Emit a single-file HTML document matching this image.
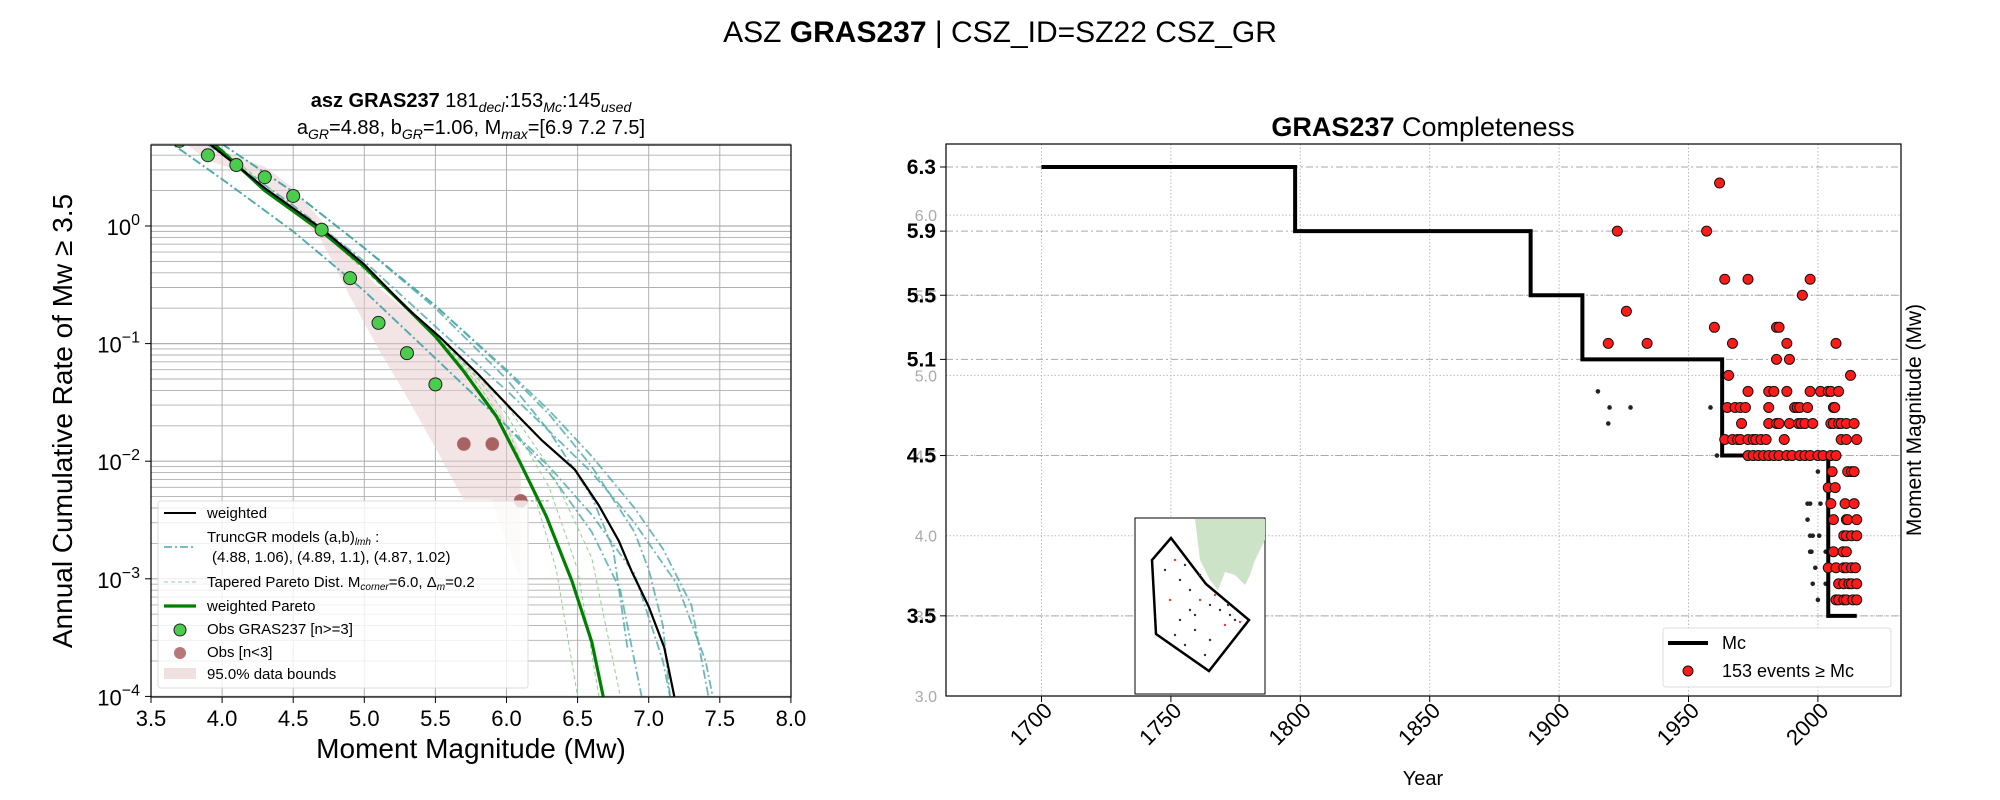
<!DOCTYPE html>
<html><head><meta charset="utf-8"><style>
html,body{margin:0;padding:0;background:#fff;}
svg{display:block;font-family:"Liberation Sans","DejaVu Sans",sans-serif;}
</style></head><body>
<svg id="fig" width="2000" height="800" viewBox="0 0 2000 800" xmlns="http://www.w3.org/2000/svg">
<defs>
<clipPath id="clipL"><rect x="151" y="145" width="640" height="552"/></clipPath>
<clipPath id="clipR"><rect x="946" y="144" width="955" height="552"/></clipPath>
</defs>
<text x="1000" y="42" font-size="30" text-anchor="middle">ASZ <tspan font-weight="bold">GRAS237</tspan> | CSZ_ID=SZ22 CSZ_GR</text>
<g id="left"></g>
<g id="right"></g>
</svg>
<script>
// ---------- LEFT CHART DATA ----------
const xTicksL = [3.5,4.0,4.5,5.0,5.5,6.0,6.5,7.0,7.5,8.0];
const yDecades = [0,-1,-2,-3,-4];
const obsMag = [3.7,3.9,4.1,4.3,4.5,4.7,4.9,5.1,5.3,5.5];
const obsRate = [5.3,4.0,3.3,2.6,1.8,0.93,0.36,0.15,0.083,0.045];
const obsLowMag = [5.7,5.9,6.1];
const obsLowRate = [0.014,0.014,0.0046];
const weightedCurve = [[3.6,9],[3.92,4.9],[4.3,2.1],[4.7,0.95],[5.0,0.47],[5.3,0.2],[5.53,0.114],[5.8,0.055],[6.03,0.028],[6.25,0.015],[6.48,0.0085],[6.65,0.0042],[6.79,0.0021],[6.88,0.00116],[7.0,0.00058],[7.11,0.00026],[7.18,0.0001]];
const paretoCurve = [[3.6,9],[3.95,4.9],[4.3,2.0],[4.7,0.9],[5.0,0.45],[5.3,0.2],[5.5,0.115],[5.7,0.058],[5.93,0.024],[6.1,0.0095],[6.28,0.0034],[6.46,0.00096],[6.6,0.00029],[6.68,0.0001]];
const truncCurves = [
 [[3.9,6],[4.5,1.95],[5.0,0.65],[5.5,0.21],[6.0,0.06],[6.3,0.027],[6.6,0.011],[6.9,0.004],[7.1,0.0018],[7.3,0.0006],[7.42,0.0001]],
 [[3.9,6],[4.5,1.95],[5.0,0.65],[5.5,0.21],[6.0,0.058],[6.3,0.025],[6.6,0.009],[6.9,0.0025],[7.0,0.0012],[7.1,0.0004],[7.15,0.0001]],
 [[3.9,6],[4.5,1.95],[5.0,0.65],[5.5,0.2],[6.0,0.05],[6.3,0.018],[6.6,0.005],[6.75,0.0018],[6.85,0.00026]],
 [[3.8,6],[4.5,1.5],[5.0,0.5],[5.5,0.14],[6.0,0.04],[6.3,0.018],[6.6,0.008],[6.9,0.003],[7.2,0.0009],[7.4,0.0002],[7.45,0.0001]],
 [[3.6,5.5],[4.0,2.5],[4.5,0.9],[5.0,0.28],[5.5,0.075],[6.0,0.02],[6.3,0.008],[6.6,0.0025],[6.8,0.0008],[6.95,0.0001]],
 [[3.6,5.5],[4.0,2.5],[4.5,0.9],[5.0,0.28],[5.5,0.075],[6.0,0.02],[6.3,0.009],[6.6,0.0035],[6.9,0.0011],[7.1,0.0002],[7.15,0.0001]]
];
const taperCurves = [
 [[4.0,4.5],[4.7,0.9],[5.5,0.12],[5.8,0.045],[6.0,0.02],[6.2,0.005],[6.35,0.0012],[6.5,0.0001]],
 [[4.0,4.5],[4.7,0.9],[5.5,0.12],[5.8,0.05],[6.0,0.025],[6.3,0.006],[6.5,0.0012],[6.65,0.0001]],
 [[4.0,4.5],[4.7,0.9],[5.5,0.12],[6.0,0.03],[6.3,0.009],[6.6,0.0015],[6.8,0.0001]]
];
const bandUpper = [[3.6,6],[3.9,4.8],[4.3,3.2],[4.5,2.1],[4.7,1.1],[4.9,0.55],[5.1,0.3],[5.5,0.12],[5.7,0.07],[5.9,0.04],[6.1,0.012]];
const bandLower = [[6.1,0.001],[6.0,0.002],[5.9,0.0047],[5.7,0.0047],[5.5,0.013],[5.3,0.035],[5.1,0.09],[4.9,0.25],[4.7,0.75],[4.5,1.4],[4.3,2.3],[4.1,3.0],[3.9,3.6],[3.7,5.5]];

// ---------- RIGHT CHART DATA ----------
const yearTicks = [1700,1750,1800,1850,1900,1950,2000];
const magTicks = [3.0,3.5,4.0,4.5,5.0,5.5,6.0];
const mcYears = [1700,1798,1889,1909,1963,2004,2015];
const mcMags = [6.3,5.9,5.5,5.1,4.5,3.5];
const evYears = [1962,1922.5,1957,1964,1973,1997,1994,1926,1960,1984,1985,1919,1934,1967,1988,2007,1984,1989,1965.5,2012.6,
1973,1981,1983,1988,1997,2001,2004,2005,2008,
1965,1968,1970,1972,1981,1991,1992,1993,1996,2006,2006.5,
1970.5,1981,1984,1985,1989,1992.5,1993.5,1995,1998,2005,2006,2008,2009,2011,2014,
1964,1967,1969,1970,1973,1975,1976,1978,1980,1987,2009,2011,2015,
1973,1975,1977,1979,1981,1983,1985,1988,1990,1993,1995,1997,2000,2002,2005,2007,
2005.5,2011.5,2013,2014,2004,2006.7,2005,2010.5,2014,2006,2011,2011.5,2015,
2010,2011,2013,2015,2006,2009.7,2011,2004,2007,2010,2011,2013,2014.5,
2008,2010,2012,2013,2015,2007,2008,2010,2011,2013.5,2015];
const evMags = [6.2,5.9,5.9,5.6,5.6,5.6,5.5,5.4,5.3,5.3,5.3,5.2,5.2,5.2,5.2,5.2,5.1,5.1,5.0,5.0,
4.9,4.9,4.9,4.9,4.9,4.9,4.9,4.9,4.9,
4.8,4.8,4.8,4.8,4.8,4.8,4.8,4.8,4.8,4.8,4.8,
4.7,4.7,4.7,4.7,4.7,4.7,4.7,4.7,4.7,4.7,4.7,4.7,4.7,4.7,4.7,
4.6,4.6,4.6,4.6,4.6,4.6,4.6,4.6,4.6,4.6,4.6,4.6,4.6,
4.5,4.5,4.5,4.5,4.5,4.5,4.5,4.5,4.5,4.5,4.5,4.5,4.5,4.5,4.5,4.5,
4.4,4.4,4.4,4.4,4.3,4.3,4.2,4.2,4.2,4.1,4.1,4.1,4.1,
4.0,4.0,4.0,4.0,3.9,3.9,3.9,3.8,3.8,3.8,3.8,3.8,3.8,
3.7,3.7,3.7,3.7,3.7,3.6,3.6,3.6,3.6,3.6,3.6];
const smallYears = [1915,1919.5,1927.6,1958.5,1919,1961,2000,1996,1997,2001,1996,1997,1998,2000.5,1997,1997.5,2003,1999,1998,2003,2000];
const smallMags = [4.9,4.8,4.8,4.8,4.7,4.5,4.4,4.2,4.2,4.2,4.1,4.0,4.0,4.0,3.9,3.9,3.9,3.8,3.7,3.7,3.6];

const NS='http://www.w3.org/2000/svg';
function mk(parent,tag,attrs,text){const e=document.createElementNS(NS,tag);for(const k in attrs)e.setAttribute(k,attrs[k]);if(text!==undefined)e.textContent=text;parent.appendChild(e);return e;}

// ---------- LEFT ----------
const L=document.getElementById('left');
const xL=m=>151+(m-3.5)*142.2;
const yL=v=>226-Math.log10(v)*117.6;
const pts=(arr,fx,fy)=>arr.map(p=>fx(p[0]).toFixed(1)+','+fy(p[1]).toFixed(1)).join(' ');
for(let d=-4;d<=0;d++){for(let k=1;k<=9;k++){const v=k*Math.pow(10,d);const y=yL(v);if(y<145)continue;
 const g=mk(L,'line',{x1:151,x2:791,y1:y,y2:y,stroke:'#b0b0b0','stroke-width':k==1?1.2:0.9});
 }}
mk(L,'line',{x1:151,x2:791,y1:yL(5),y2:yL(5),stroke:'#b0b0b0','stroke-width':0.9});
xTicksL.forEach(m=>{const g=mk(L,'line',{x1:xL(m),x2:xL(m),y1:145,y2:697,stroke:'#b0b0b0','stroke-width':1});
 });
const cl=mk(L,'g',{'clip-path':'url(#clipL)'});

const band=mk(cl,'polygon',{points:pts(bandUpper.concat(bandLower),xL,yL),fill:'#e8cccc','fill-opacity':0.5});

taperCurves.forEach(c=>{const e=mk(cl,'polyline',{points:pts(c,xL,yL),fill:'none',stroke:'#90d090','stroke-width':1,'stroke-dasharray':'4,3'});
 });
truncCurves.forEach(c=>{const e=mk(cl,'polyline',{points:pts(c,xL,yL),fill:'none',stroke:'#4aa8a8','stroke-width':1.8,'stroke-dasharray':'9,3,2,3','stroke-opacity':0.8});
 });
let e=mk(cl,'polyline',{points:pts(paretoCurve,xL,yL),fill:'none',stroke:'#008000','stroke-width':3.2});

e=mk(cl,'polyline',{points:pts(weightedCurve,xL,yL),fill:'none',stroke:'#000','stroke-width':2.2});

mk(cl,'line',{x1:xL(6.1),x2:xL(6.3),y1:yL(0.0046),y2:yL(0.0046),stroke:'#888','stroke-dasharray':'3,2'});
obsMag.forEach((m,i)=>{const c=mk(cl,'circle',{cx:xL(m),cy:yL(obsRate[i]),r:6.5,fill:'#4ccc4c',stroke:'#222','stroke-width':1});
 });
obsLowMag.forEach((m,i)=>{const c=mk(cl,'circle',{cx:xL(m),cy:yL(obsLowRate[i]),r:6.5,fill:'#a86262',stroke:'#a86262','stroke-opacity':0.6});
 });
e=mk(L,'rect',{x:151,y:145,width:640,height:552,fill:'none',stroke:'#000','stroke-width':1.2});

xTicksL.forEach(m=>{mk(L,'line',{x1:xL(m),x2:xL(m),y1:697,y2:703,stroke:'#000'});
 const t=mk(L,'text',{x:xL(m),y:726,'font-size':22,'text-anchor':'middle'},m.toFixed(1));
 });
yDecades.forEach(d=>{const y=yL(Math.pow(10,d));mk(L,'line',{x1:145,x2:151,y1:y,y2:y,stroke:'#000'});
 const t=mk(L,'text',{x:140,y:y+9,'font-size':22,'text-anchor':'end'});t.innerHTML='10<tspan dy="-10" font-size="16">'+(d==0?'0':'\u2212'+(-d))+'</tspan>';
 });
e=mk(L,'text',{x:471,y:758,'font-size':28,'text-anchor':'middle'},'Moment Magnitude (Mw)');

e=mk(L,'text',{x:0,y:0,'font-size':28,'text-anchor':'middle',transform:'translate(72,421) rotate(-90)'},'Annual Cumulative Rate of Mw  \u2265  3.5');

e=mk(L,'text',{x:471,y:107,'font-size':20,'text-anchor':'middle'});
e.innerHTML='<tspan font-weight="bold">asz GRAS237</tspan>  181<tspan font-size="14" font-style="italic" dy="5">decl</tspan><tspan dy="-5">:153</tspan><tspan font-size="14" font-style="italic" dy="5">Mc</tspan><tspan dy="-5">:145</tspan><tspan font-size="14" font-style="italic" dy="5">used</tspan>';

e=mk(L,'text',{x:471,y:134,'font-size':20,'text-anchor':'middle'});
e.innerHTML='a<tspan font-size="14" font-style="italic" dy="5">GR</tspan><tspan dy="-5">=4.88,  b</tspan><tspan font-size="14" font-style="italic" dy="5">GR</tspan><tspan dy="-5">=1.06, M</tspan><tspan font-size="14" font-style="italic" dy="5">max</tspan><tspan dy="-5">=[6.9 7.2 7.5]</tspan>';

const lg=mk(L,'g',{});
mk(lg,'rect',{x:158,y:501,width:370,height:187,rx:3,fill:'#fff','fill-opacity':0.8,stroke:'#ddd'});
const fs=15;
mk(lg,'line',{x1:164,x2:196,y1:513,y2:513,stroke:'#000','stroke-width':2});
mk(lg,'text',{x:207,y:518,'font-size':fs},'weighted');
mk(lg,'line',{x1:164,x2:196,y1:547,y2:547,stroke:'#4aa8a8','stroke-width':1.5,'stroke-dasharray':'8,3,2,3'});
e=mk(lg,'text',{x:207,y:542,'font-size':fs});e.innerHTML='TruncGR models (a,b)<tspan font-size="10" font-style="italic" dy="3">lmh</tspan><tspan dy="-3"> :</tspan>';
mk(lg,'text',{x:212,y:562,'font-size':fs},'(4.88, 1.06), (4.89, 1.1), (4.87, 1.02)');
mk(lg,'line',{x1:164,x2:196,y1:582,y2:582,stroke:'#90d090','stroke-width':1,'stroke-dasharray':'4,3'});
e=mk(lg,'text',{x:207,y:587,'font-size':fs});e.innerHTML='Tapered Pareto Dist. M<tspan font-size="10" font-style="italic" dy="3">corner</tspan><tspan dy="-3">=6.0, \u0394</tspan><tspan font-size="10" font-style="italic" dy="3">m</tspan><tspan dy="-3">=0.2</tspan>';
mk(lg,'line',{x1:164,x2:196,y1:606,y2:606,stroke:'#008000','stroke-width':3.2});
mk(lg,'text',{x:207,y:611,'font-size':fs},'weighted Pareto');
mk(lg,'circle',{cx:180,cy:630,r:6,fill:'#4ccc4c',stroke:'#222'});
mk(lg,'text',{x:207,y:634,'font-size':fs},'Obs GRAS237 [n>=3]');
mk(lg,'circle',{cx:180,cy:653,r:6,fill:'#a86262','fill-opacity':0.85});
mk(lg,'text',{x:207,y:657,'font-size':fs},'Obs [n<3]');
mk(lg,'rect',{x:164,y:668,width:32,height:11,fill:'#e8cccc','fill-opacity':0.6});
mk(lg,'text',{x:207,y:679,'font-size':fs},'95.0% data bounds');

// ---------- RIGHT ----------
const R=document.getElementById('right');
const xR=y=>1041.5+(y-1700)*2.588;
const yR=m=>696-(m-3)*160.3;
yearTicks.forEach(yr=>{const g=mk(R,'line',{x1:xR(yr),x2:xR(yr),y1:144,y2:696,stroke:'#bbb','stroke-dasharray':'1.5,2'});
 });
magTicks.forEach(m=>{const g=mk(R,'line',{x1:946,x2:1901,y1:yR(m),y2:yR(m),stroke:'#bbb','stroke-dasharray':'1.5,2'});
 });
mcMags.forEach(m=>{const g=mk(R,'line',{x1:946,x2:1901,y1:yR(m),y2:yR(m),stroke:'#aaa','stroke-dasharray':'7,3,2,3'});
 });
const cr=mk(R,'g',{'clip-path':'url(#clipR)'});

smallYears.forEach((yr,i)=>{const c=mk(cr,'circle',{cx:xR(yr),cy:yR(smallMags[i]),r:2.3,fill:'#222'});
 });
let d='M'+xR(mcYears[0])+','+yR(mcMags[0]);
for(let i=0;i<mcMags.length;i++){d+=' H'+xR(mcYears[i+1]);if(i+1<mcMags.length)d+=' V'+yR(mcMags[i+1]);}
e=mk(cr,'path',{d:d,fill:'none',stroke:'#000','stroke-width':4});

evYears.forEach((yr,i)=>{const c=mk(cr,'circle',{cx:xR(yr),cy:yR(evMags[i]),r:5,fill:'#ff1a1a',stroke:'#111','stroke-width':1});
 });
e=mk(R,'rect',{x:946,y:144,width:955,height:552,fill:'none',stroke:'#000','stroke-width':1.2});

yearTicks.forEach(yr=>{mk(R,'line',{x1:xR(yr),x2:xR(yr),y1:696,y2:702,stroke:'#000'});
 const t=mk(R,'text',{x:0,y:0,'font-size':22,'text-anchor':'end',transform:'translate('+(xR(yr)+12)+',712) rotate(-45)'},String(yr));
 });
magTicks.forEach(m=>{const t=mk(R,'text',{x:937,y:yR(m)+6,'font-size':16,'text-anchor':'end',fill:'#aaa'},m.toFixed(1));
 });
mcMags.forEach(m=>{mk(R,'line',{x1:940,x2:946,y1:yR(m),y2:yR(m),stroke:'#000'});
 const t=mk(R,'text',{x:936,y:yR(m)+7,'font-size':21,'font-weight':'bold','text-anchor':'end'},m.toFixed(1));
 });
e=mk(R,'text',{x:1423,y:785,'font-size':20,'text-anchor':'middle'},'Year');

e=mk(R,'text',{x:0,y:0,'font-size':21,'text-anchor':'middle',transform:'translate(1921,420) rotate(-90)'},'Moment Magnitude (Mw)');

e=mk(R,'text',{x:1423,y:136,'font-size':27,'text-anchor':'middle'});e.innerHTML='<tspan font-weight="bold">GRAS237</tspan> Completeness';

const ins=mk(R,'g',{});
mk(ins,'rect',{x:1135,y:518,width:130,height:176,fill:'#fff',stroke:'#000'});
mk(ins,'path',{d:'M1195,519 L1265,519 L1265,540 L1255,560 L1250,575 L1245,585 L1235,575 L1225,572 L1218,590 L1210,580 L1200,560 Z',fill:'#cde3c8'});
mk(ins,'polygon',{points:'1171,538 1152,560 1156,634 1209,671 1249,620 1206,584',fill:'none',stroke:'#000','stroke-width':2.5});
const mapDots=[[1175,560],[1185,565],[1180,580],[1190,590],[1200,600],[1210,605],[1220,610],[1230,615],[1170,600],[1180,620],[1195,630],[1210,640],[1225,625],[1235,620],[1190,610],[1200,575],[1215,595],[1165,570],[1185,645],[1205,655],[1240,622],[1228,605],[1175,635],[1195,615]];
mapDots.forEach((p,i)=>{mk(ins,'circle',{cx:p[0],cy:p[1],r:1.2,fill:i%4==0?'#f33':'#333'});});
const rl=mk(R,'g',{});
mk(rl,'rect',{x:1663,y:628,width:228,height:59,rx:3,fill:'#fff',stroke:'#ddd'});
mk(rl,'line',{x1:1668,x2:1708,y1:643,y2:643,stroke:'#000','stroke-width':4});
mk(rl,'text',{x:1722,y:649,'font-size':18},'Mc');
mk(rl,'circle',{cx:1688,cy:671,r:5,fill:'#ff1a1a',stroke:'#111'});
mk(rl,'text',{x:1722,y:677,'font-size':18},'153 events  \u2265  Mc');
</script>
</body></html>
